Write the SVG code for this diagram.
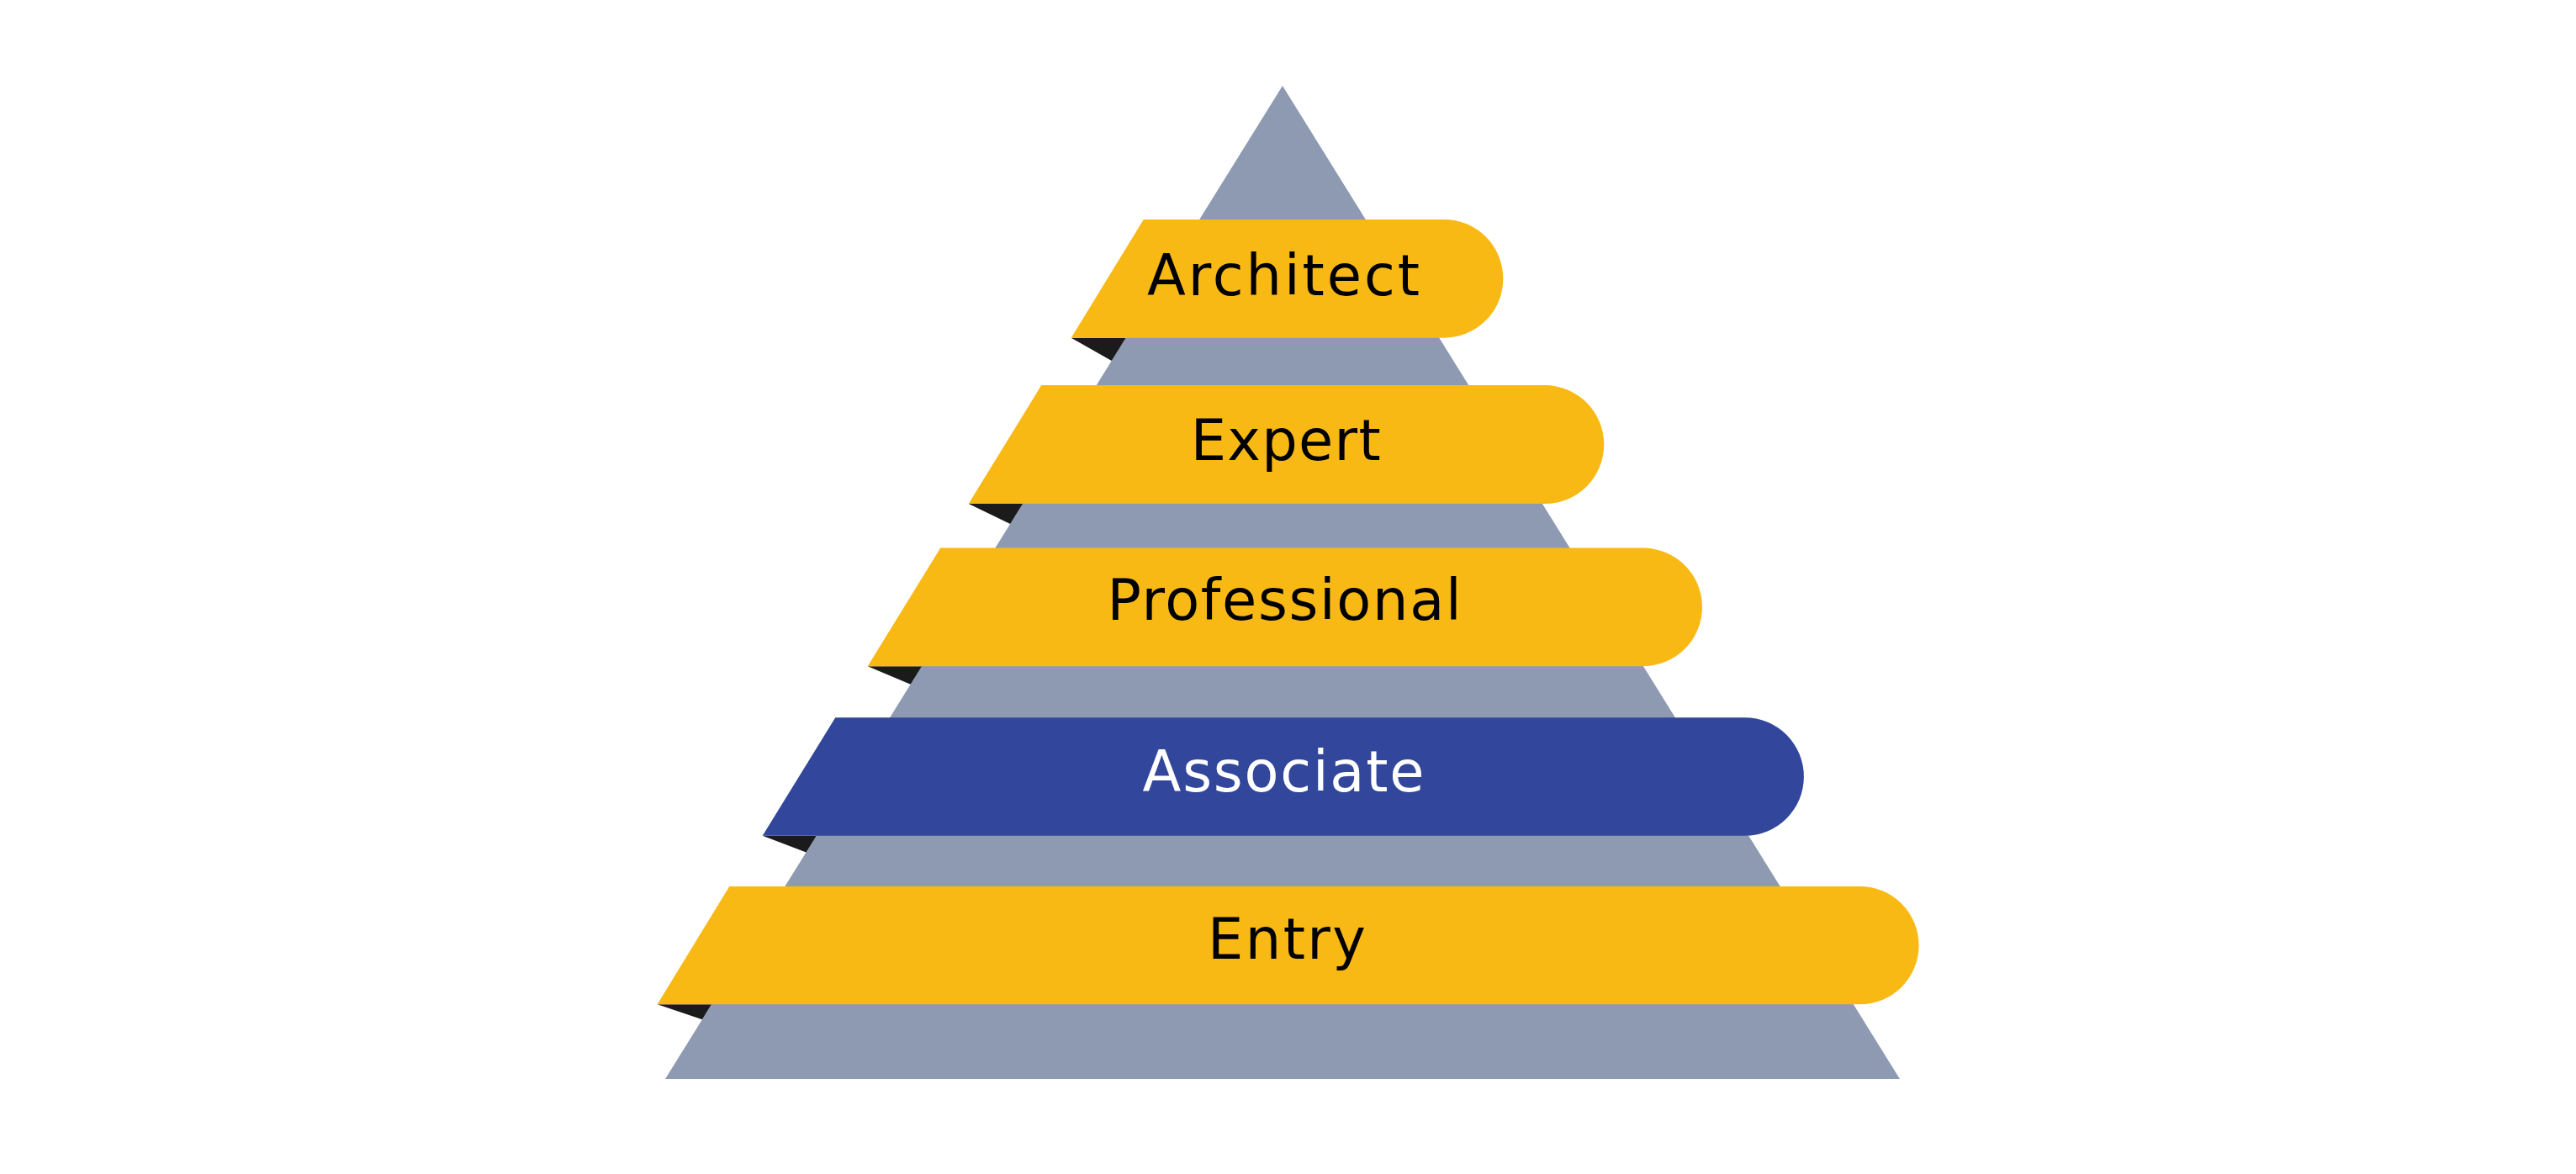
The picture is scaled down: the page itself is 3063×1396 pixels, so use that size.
<svg xmlns="http://www.w3.org/2000/svg" width="3063" height="1396" viewBox="0 0 3063 1396">
<style>
.tri{fill:#8E9AB1}
.shadow{fill:#1B1B1B}
.band{fill:#F9B914}
.band-blue{fill:#32479B}
.lbl{font-family:"DejaVu Sans","Liberation Sans",sans-serif;font-size:67px;text-anchor:middle;fill:#000}
.lbl-w{fill:#fff}
</style>
<rect x="0" y="0" width="3063" height="1396" fill="#fff"/>
<g id="pyramid">
<polygon class="tri" points="1525,102 2259,1283 791,1283"/>
</g>
<g id="shadows">
<polygon class="shadow" points="1273.7,401.7 1321.8,429 1338.7,401.7"/>
<polygon class="shadow" points="1151.7,599.1 1201.2,623 1216.1,599.1"/>
<polygon class="shadow" points="1031.7,792.2 1082.7,813.7 1096.1,792.2"/>
<polygon class="shadow" points="906.7,993.8 958.6,1013.4 970.8,993.8"/>
<polygon class="shadow" points="781.6,1194.3 834.9,1212.3 846.1,1194.3"/>
</g>
<g id="architect">
<path class="band" d="M1273.7,401.7 L1359.8,261 L1717,261 A70.35,70.35 0 0 1 1717,401.7 Z"/>
<text class="lbl" x="1526" y="351" textLength="324" lengthAdjust="spacing">Architect</text>
</g>
<g id="expert">
<path class="band" d="M1151.7,599.1 L1238.3,458.1 L1836.8,458.1 A70.5,70.5 0 0 1 1836.8,599.1 Z"/>
<text class="lbl" x="1528.7" y="546.7" textLength="226" lengthAdjust="spacing">Expert</text>
</g>
<g id="professional">
<path class="band" d="M1031.7,792.2 L1118.3,651.6 L1953.7,651.6 A70.3,70.3 0 0 1 1953.7,792.2 Z"/>
<text class="lbl" x="1527" y="737.3" textLength="421" lengthAdjust="spacing">Professional</text>
</g>
<g id="associate">
<path class="band-blue" d="M906.7,993.8 L993.3,853.2 L2074.6,853.2 A70.3,70.3 0 0 1 2074.6,993.8 Z"/>
<text class="lbl lbl-w" x="1526" y="941" textLength="335" lengthAdjust="spacing">Associate</text>
</g>
<g id="entry">
<path class="band" d="M781.6,1194.3 L867.3,1054 L2211.5,1054 A70.15,70.15 0 0 1 2211.5,1194.3 Z"/>
<text class="lbl" x="1530" y="1140" textLength="188" lengthAdjust="spacing">Entry</text>
</g>
<g id="connectors"></g>
</svg>
